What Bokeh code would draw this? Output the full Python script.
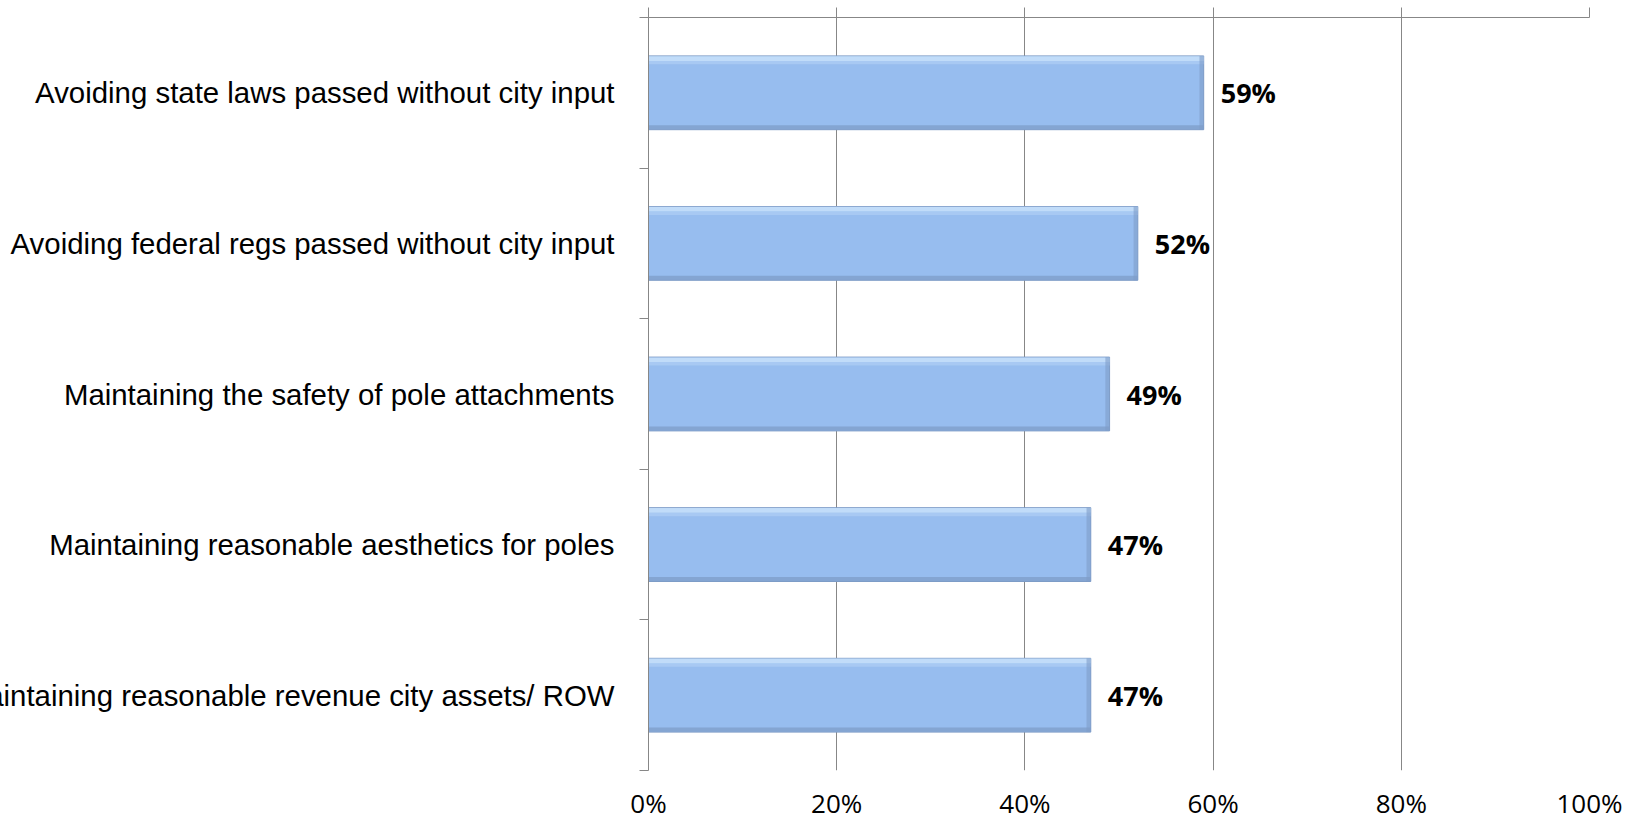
from bokeh.plotting import figure
from bokeh.models import (ColumnDataSource, FixedTicker, NumeralTickFormatter,
                          LinearAxis, LabelSet, Range1d, CustomJSTickFormatter)
from bokeh.core.properties import value
from bokeh.embed import file_html
from bokeh.resources import INLINE

# Survey answers, listed top to bottom
categories = [
    "Avoiding state laws passed without city input",
    "Avoiding federal regs passed without city input",
    "Maintaining the safety of pole attachments",
    "Maintaining reasonable aesthetics for poles",
    "Maintaining reasonable revenue city assets/ ROW",
]
shares = [0.59, 0.52, 0.49, 0.47, 0.47]
value_ticks = [0, 0.2, 0.4, 0.6, 0.8, 1.0]

n = len(categories)
pos = [i + 0.5 for i in range(n)]
src = ColumnDataSource(dict(
    cat=categories,
    y=pos,
    v=shares,
    lbl=[f"{round(s * 100)}%" for s in shares],
))

GRAY = "#878787"
LEFT_BORDER = 690
SHIFT = LEFT_BORDER - 648   # page offset so the plot area starts at x=648

p = figure(width=1633 + SHIFT, height=825, output_backend="svg",
           toolbar_location=None,
           x_range=Range1d(0, 1), y_range=Range1d(n, 0),
           min_border_left=LEFT_BORDER, min_border_right=44,
           min_border_top=17, min_border_bottom=55,
           x_axis_location=None, y_axis_location=None)
p.styles = {"margin-left": f"-{SHIFT}px"}
p.outline_line_color = None
p.background_fill_color = "white"
p.border_fill_color = "white"

# vertical gridlines only
p.xgrid.ticker = FixedTicker(ticks=value_ticks)
p.xgrid.grid_line_color = GRAY
p.xgrid.grid_line_width = 1
p.ygrid.grid_line_color = None

# value axis line with outward ticks along the top (tick marks only)
top = LinearAxis(ticker=FixedTicker(ticks=[], minor_ticks=value_ticks))
top.axis_line_color = GRAY
top.major_tick_line_color = None
top.minor_tick_line_color = GRAY
top.minor_tick_out = 10
top.minor_tick_in = 0
top.major_label_standoff = 0
p.add_layout(top, "above")

# percentage labels along the bottom
bottom = LinearAxis(ticker=FixedTicker(ticks=value_ticks),
                    formatter=NumeralTickFormatter(format="0%"))
bottom.axis_line_color = None
bottom.major_tick_line_color = None
bottom.minor_tick_line_color = None
bottom.major_tick_out = 0
bottom.major_label_standoff = 14
bottom.major_label_text_font = "Open Sans"
bottom.major_label_text_font_size = "26px"
bottom.major_label_text_color = "black"
p.add_layout(bottom, "below")

# category axis: names at bar centres, tick marks between the bars
left = LinearAxis(ticker=FixedTicker(ticks=pos, minor_ticks=list(range(n + 1))),
                  formatter=CustomJSTickFormatter(
                      args=dict(names=categories),
                      code="return names[Math.round(tick - 0.5)]"))
left.axis_line_color = GRAY
left.major_tick_line_color = None
left.major_tick_out = 9
left.major_tick_in = 0
left.minor_tick_line_color = GRAY
left.minor_tick_out = 9
left.minor_tick_in = 0
left.major_label_standoff = 25
left.major_label_text_font = "Liberation Sans"
left.major_label_text_font_size = "29.4px"
left.major_label_text_color = "black"
p.add_layout(left, "left")

# bars with a soft bevel
bar_h = 0.49
p.hbar(y="y", left=0, right="v", height=bar_h, source=src,
       fill_color="#97BDEF", line_color="#7D9BC6", line_width=1)
src_hi = ColumnDataSource(dict(y=[y - bar_h / 2 + 0.018 for y in pos], v=shares))
p.hbar(y="y", left=0, right="v", height=0.032, source=src_hi,
       fill_color="#C8E2FA", fill_alpha=0.85, line_color=None)
src_hi2 = ColumnDataSource(dict(y=[y - bar_h / 2 + 0.045 for y in pos], v=shares))
p.hbar(y="y", left=0, right="v", height=0.022, source=src_hi2,
       fill_color="#AFCFF5", fill_alpha=0.7, line_color=None)
src_lo = ColumnDataSource(dict(y=[y + bar_h / 2 - 0.016 for y in pos], v=shares))
p.hbar(y="y", left=0, right="v", height=0.028, source=src_lo,
       fill_color="#809FCB", fill_alpha=0.8, line_color=None)
src_r = ColumnDataSource(dict(y=pos, l=[s - 0.0045 for s in shares], v=shares))
p.hbar(y="y", left="l", right="v", height=bar_h, source=src_r,
       fill_color="#7E9CC8", fill_alpha=0.6, line_color=None)

# value labels at bar ends
p.add_layout(LabelSet(x="v", y="y", text="lbl", source=src,
                      x_offset=17, text_align="left", text_baseline="middle",
                      text_font=value("Open Sans"), text_font_style="bold",
                      text_font_size="27px", text_color="black"))

open("out.html", "w").write(file_html(p, INLINE))
